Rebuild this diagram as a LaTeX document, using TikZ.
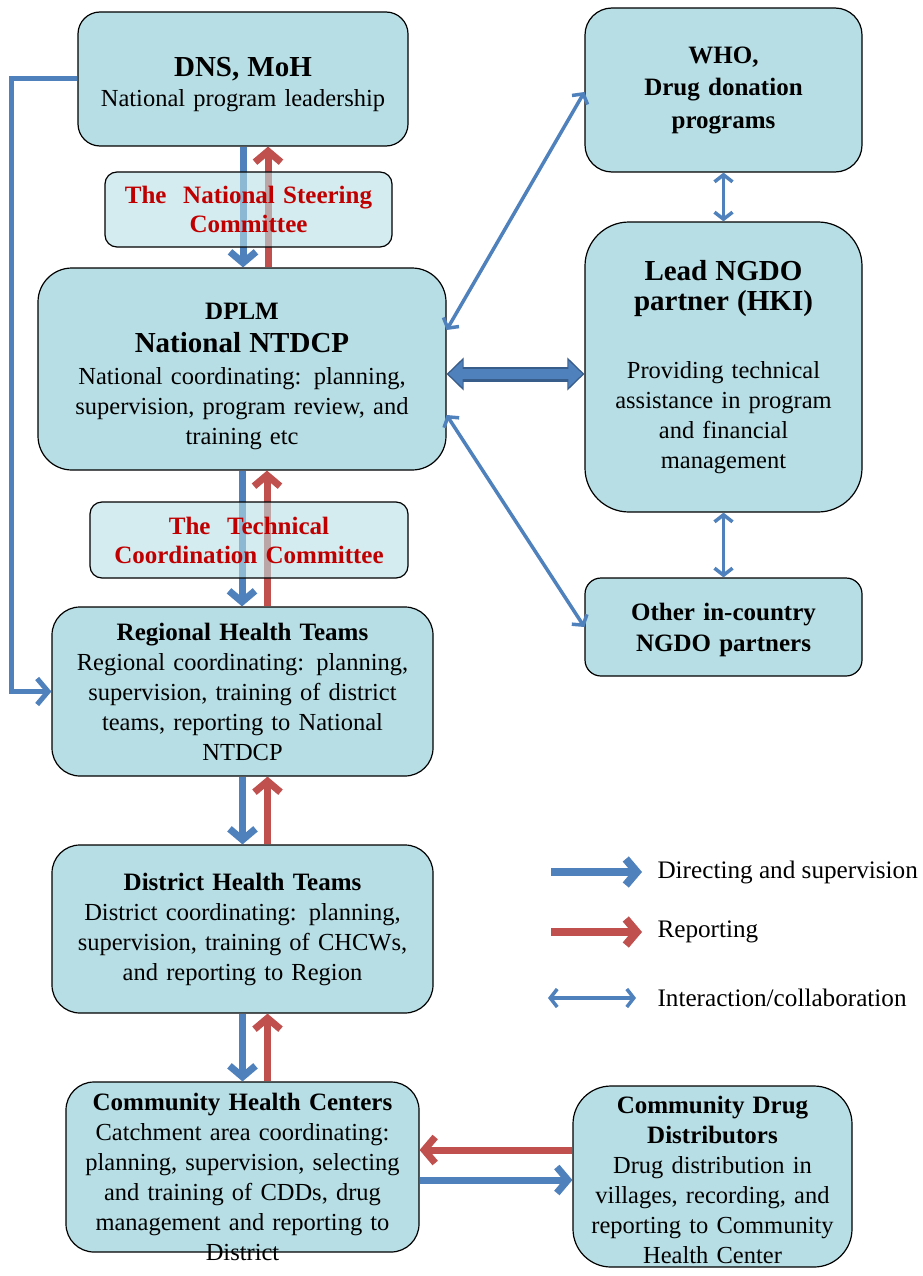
\documentclass[tikz,border=0pt]{standalone}
\usepackage{fontspec}
\setmainfont{Liberation Serif}
\usetikzlibrary{arrows.meta,calc}
\definecolor{boxfill}{RGB}{183,222,228}
\definecolor{dirblue}{RGB}{79,129,189}
\definecolor{repred}{RGB}{192,80,77}
\definecolor{cmtred}{RGB}{192,0,0}
\definecolor{bigline}{RGB}{56,93,138}
\newcommand{\ttl}{\fontsize{25}{31}\selectfont\bfseries}
\newcommand{\bigttl}{\fontsize{29}{34}\selectfont\bfseries}
\newcommand{\lift}[1]{\rule{0pt}{#1}}

\begin{document}
\begin{tikzpicture}[x=1pt,y=-1pt,
  box/.style={draw,fill=boxfill,line width=1.2pt,align=center,inner sep=4pt,
    font=\fontsize{24.5}{30}\selectfont},
  cmt/.style={box,fill opacity=0.6,text opacity=1,text=cmtred,rounded corners=12pt,
    font=\fontsize{25}{29}\selectfont\bfseries},
  dir/.style={dirblue,line width=7pt,-{Straight Barb[length=11pt,width=26pt]}},
  rep/.style={repred,line width=7pt,-{Straight Barb[length=11pt,width=26pt]}},
  inter/.style={dirblue,line width=3.5pt,
    {Straight Barb[length=7pt,width=18pt]}-{Straight Barb[length=7pt,width=18pt]}}]
\useasboundingbox (0,0) rectangle (922,1276);

%left column
\node[box,rounded corners=22pt,minimum width=330,minimum height=134,text width=320] (dns) at (243,79)
  {{\bigttl\lift{30pt}DNS, MoH}\\ National program leadership};
\node[box,rounded corners=34pt,minimum width=408,minimum height=202,text width=398] (dplm) at (242,369)
  {{\ttl\lift{31pt}DPLM}\\[3pt] {\bigttl National NTDCP}\\[2pt] National coordinating: planning,\\ supervision, program review, and\\ training etc};
\node[box,rounded corners=28pt,minimum width=381,minimum height=169,text width=371] (rht) at (242.5,691.5)
  {{\ttl Regional Health Teams}\\ Regional coordinating: planning,\\ supervision, training of district\\ teams, reporting to National\\ NTDCP};
\node[box,rounded corners=28pt,minimum width=381,minimum height=168,text width=371] (dht) at (242.5,929)
  {{\ttl District Health Teams}\\ District coordinating: planning,\\ supervision, training of CHCWs,\\ and reporting to Region};
\node[box,rounded corners=28pt,minimum width=353,minimum height=170,text width=345,text depth=131pt] (chc) at (242.5,1167)
  {{\ttl Community Health Centers}\\ Catchment area coordinating:\\ planning, supervision, selecting\\ and training of CDDs, drug\\ management and reporting to\\ District};

%right column
\node[box,rounded corners=27pt,minimum width=277,minimum height=164,text width=267,
  font=\fontsize{25}{32.5}\selectfont\bfseries] (who) at (723.5,90)
  {WHO,\\ Drug donation\\ programs};
\node[box,rounded corners=44pt,minimum width=277,minimum height=290,text width=267] (lead) at (723.5,367)
  {{\bigttl Lead NGDO\\ partner (HKI)}\\[38pt] Providing technical\\ assistance in program\\ and financial\\ management};
\node[box,rounded corners=16pt,minimum width=277,minimum height=98,text width=267,font=\ttl] (other) at (723.5,627)
  {\lift{24pt}Other in-country\\ NGDO partners};
\node[box,rounded corners=38pt,minimum width=279,minimum height=181,text width=271,text depth=144pt] (cdd) at (712.5,1176.5)
  {{\ttl Community Drug\\ Distributors}\\ Drug distribution in\\ villages, recording, and\\ reporting to Community\\ Health Center};

%up and down
\draw[dir] (dns.south) -- (dns.south |- dplm.north);
\draw[rep] ([xshift=25pt]dns.south |- dplm.north) -- ([xshift=25pt]dns.south);
\draw[dir] (dplm.south) -- (dplm.south |- rht.north);
\draw[rep] ([xshift=25pt]dplm.south |- rht.north) -- ([xshift=25pt]dplm.south);
\draw[dir] (rht.south) -- (rht.south |- dht.north);
\draw[rep] ([xshift=25pt]rht.south |- dht.north) -- ([xshift=25pt]rht.south);
\draw[dir] (dht.south) -- (dht.south |- chc.north);
\draw[rep] ([xshift=25pt]dht.south |- chc.north) -- ([xshift=25pt]dht.south);

%committees
\node[cmt,minimum width=287,minimum height=75,text width=279] (nsc) at (248.5,209.5)
  {The\ \ National Steering\\ Committee};
\node[cmt,minimum width=318,minimum height=76,text width=310] (tcc) at (249,540)
  {The\ \ Technical\\ Coordination Committee};

%left elbow
\coordinate (elbow) at ($(rht.west)+(-40,0)$);
\draw[dirblue,line width=5pt,-{Straight Barb[length=11pt,width=26pt]}] (dns.west) -| (elbow) -- (rht.west);

%partners
\draw[inter] ($(dplm.east)+(0,-39)$) -- ($(who.west)+(0,2)$);
\draw[inter] ($(dplm.east)+(0,46)$) -- (other.west);
\draw[inter] (who.south) -- (lead.north);
\draw[inter] (lead.south) -- (other.north);
\draw[bigline,line width=15pt,{Triangle[length=17pt,width=32pt]}-{Triangle[length=17pt,width=32pt]}]
  ([yshift=-5pt]dplm.east) -- ([yshift=-5pt]dplm.east -| lead.west);
\draw[dirblue,line width=10pt,{Triangle[length=14pt,width=26pt]}-{Triangle[length=14pt,width=26pt]},
  shorten <=2pt,shorten >=2pt]
  ([yshift=-5pt]dplm.east) -- ([yshift=-5pt]dplm.east -| lead.west);

%drug distributors
\draw[rep] ([yshift=17pt]chc.east -| cdd.west) -- ([yshift=17pt]chc.east);
\draw[dir] ([yshift=-13pt]chc.east) -- ([yshift=-13pt]chc.east -| cdd.west);

%legend
\coordinate (lgA) at (551,872);
\coordinate (lgB) at (642,872);
\coordinate (lgC) at (551,932);
\coordinate (lgD) at (642,932);
\coordinate (lgE) at (548,998);
\coordinate (lgF) at (636,998);
\draw[dir,line width=8pt] (lgA) -- (lgB);
\draw[rep,line width=8pt] (lgC) -- (lgD);
\draw[inter] (lgE) -- (lgF);
\node[anchor=west,font=\fontsize{25.2}{30}\selectfont] (lgdir) at (654,872) {Directing and supervision};
\node[anchor=west,font=\fontsize{25.2}{30}\selectfont] (lgrep) at (654,932) {Reporting};
\node[anchor=west,font=\fontsize{25.2}{30}\selectfont] (lgint) at (654,998) {Interaction/collaboration};
\end{tikzpicture}
\end{document}
